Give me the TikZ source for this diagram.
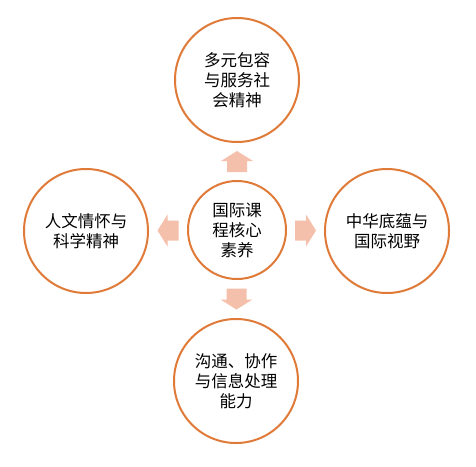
\documentclass[tikz,border=0pt]{standalone}
\usepackage{fontspec}
\newfontfamily\cjk{Noto Sans CJK SC}
\usetikzlibrary{calc}
\definecolor{ring}{HTML}{DF7A38}
\definecolor{afill}{HTML}{F5C0AB}
\tikzset{
  ringnode/.style={circle, draw=ring, line width=2pt, fill=white, inner sep=0pt,
    minimum size=124pt, align=center, font=\cjk\fontsize{16.5pt}{20pt}\selectfont},
  hubnode/.style={ringnode, minimum size=98pt},
  blockarrow/.pic={\fill[afill] (-10.5,-10) -- (0.5,-10) -- (0.5,-16) -- (10.5,0)
     -- (0.5,16) -- (0.5,10) -- (-10.5,10) -- cycle;}
}
\begin{document}
\begin{tikzpicture}[x=1pt,y=-1pt]
\useasboundingbox (0,0) rectangle (476,466);
\node[hubnode] (c) at (237,230) {国际课\\程核心\\素养};
\node[ringnode] (t) at (237,80) {多元包容\\与服务社\\会精神};
\node[ringnode] (l) at (86,231) {人文情怀与\\科学精神};
\node[ringnode] (r) at (387,231) {中华底蕴与\\国际视野};
\node[ringnode] (b) at (236,381) {沟通、协作\\与信息处理\\能力};
\pic[rotate=90] at ($(c.north)!0.5!(t.south)$) {blockarrow};
\pic[rotate=-90] at ($(c.south)!0.5!(b.north)$) {blockarrow};
\pic[rotate=180] at ($(c.west)!0.5!(l.east)$) {blockarrow};
\pic at ($(c.east)!0.5!(r.west)$) {blockarrow};
\end{tikzpicture}
\end{document}
